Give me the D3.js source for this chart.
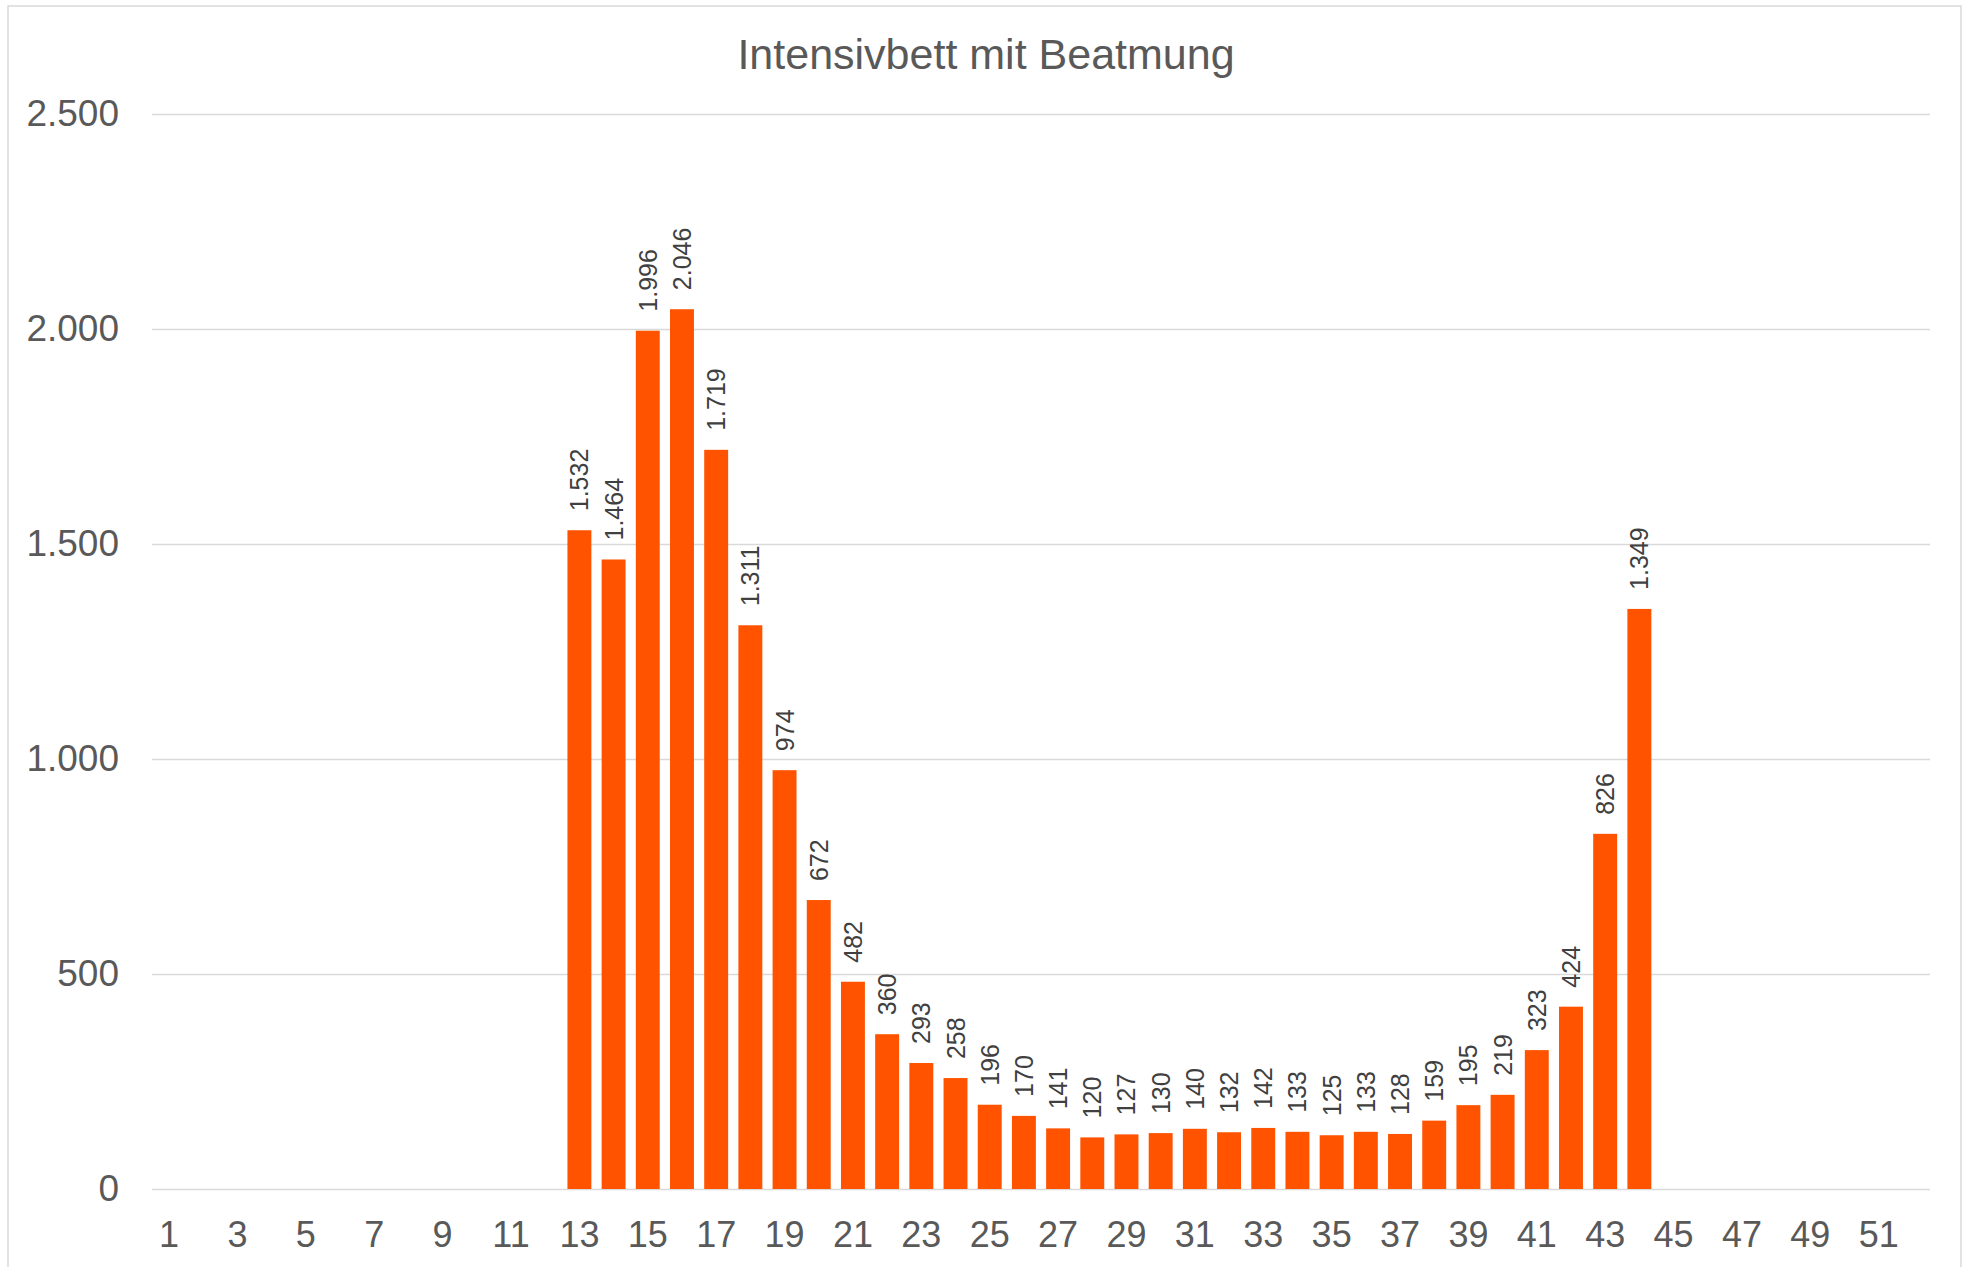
<!DOCTYPE html>
<html>
<head>
<meta charset="utf-8">
<script src="https://cdn.jsdelivr.net/npm/d3@7"></script>
<style>
  body { margin: 0; background: #fff; }
  text { font-family: "Liberation Sans", Arial, sans-serif; }
</style>
</head>
<body>
<svg id="chart"></svg>
<script>
//Chart data
var title = "Intensivbett mit Beatmung";
var weeks = d3.range(1, 53);   //calendar weeks 1..52
var values = [null, null, null, null, null, null, null, null, null, null, null, null,
  1532, 1464, 1996, 2046, 1719, 1311, 974, 672, 482, 360, 293, 258, 196, 170,
  141, 120, 127, 130, 140, 132, 142, 133, 125, 133, 128, 159, 195, 219, 323, 424,
  826, 1349, null, null, null, null, null, null, null, null];
var yTicks = [0, 500, 1000, 1500, 2000, 2500];
var xTickLabels = weeks.filter(function(w) { return w % 2 == 1; });

var width = 1966, height = 1267;
var margin = {top: 114, right: 36, bottom: 78, left: 152};

var de = d3.formatLocale({decimal: ",", thousands: ".", grouping: [3], currency: ["", " €"]});
var fmt = de.format(",d");

var svg = d3.select("#chart")
    .attr("width", width)
    .attr("height", height);

//Outer chart border
svg.append("rect")
    .attr("x", 8).attr("y", 6)
    .attr("width", 1953).attr("height", 1280)
    .attr("fill", "none")
    .attr("stroke", "#d9d9d9")
    .attr("stroke-width", 1.5);

var x = d3.scaleBand()
    .domain(weeks)
    .range([margin.left, width - margin.right])
    .paddingInner(0.3)
    .paddingOuter(0.15);

var y = d3.scaleLinear()
    .domain([0, 2500])
    .range([height - margin.bottom, margin.top]);

//Gridlines + y labels
var yAxis = svg.append("g")
    .attr("transform", "translate(" + margin.left + ",0)")
    .call(d3.axisLeft(y).tickValues(yTicks).tickFormat(fmt)
        .tickSize(-(width - margin.left - margin.right)).tickPadding(33));
yAxis.select(".domain").remove();
yAxis.selectAll(".tick line").attr("stroke", "#d9d9d9").attr("stroke-width", 1.5);
yAxis.selectAll(".tick text")
    .attr("fill", "#595959")
    .attr("font-size", "37px");

//X labels (odd weeks only)
var xAxis = svg.append("g")
    .attr("transform", "translate(0," + (height - margin.bottom) + ")")
    .call(d3.axisBottom(x).tickValues(xTickLabels).tickSize(0).tickPadding(32));
xAxis.select(".domain").remove();
xAxis.selectAll(".tick text")
    .attr("fill", "#595959")
    .attr("font-size", "36px");

//Bars
var data = weeks.map(function(w, i) { return {week: w, value: values[i]}; })
    .filter(function(d) { return d.value != null; });

svg.append("g")
  .selectAll("rect")
  .data(data)
  .enter().append("rect")
    .attr("x", function(d) { return x(d.week); })
    .attr("y", function(d) { return y(d.value); })
    .attr("width", x.bandwidth())
    .attr("height", function(d) { return y(0) - y(d.value); })
    .attr("fill", "#ff5300");

//Rotated data labels
svg.append("g")
  .selectAll("text")
  .data(data)
  .enter().append("text")
    .attr("transform", function(d) {
      return "translate(" + (x(d.week) + x.bandwidth() / 2) + "," + (y(d.value) - 19) + ") rotate(-90)";
    })
    .attr("dominant-baseline", "central")
    .attr("text-anchor", "start")
    .attr("font-size", "25px")
    .attr("fill", "#404040")
    .text(function(d) { return fmt(d.value); });

//Title
svg.append("text")
    .attr("x", 986)
    .attr("y", 69)
    .attr("text-anchor", "middle")
    .attr("font-size", "43px")
    .attr("fill", "#595959")
    .text(title);
</script>
</body>
</html>
